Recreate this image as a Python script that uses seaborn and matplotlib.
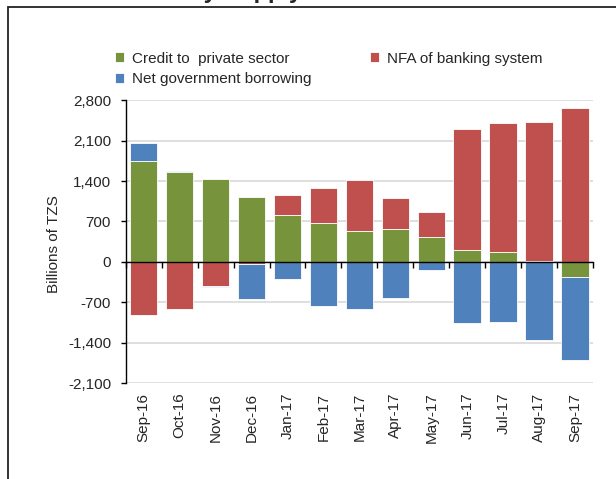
# Stacked drivers of money supply, Sep-16 to Sep-17 (Billions of TZS)

import numpy as np
import seaborn as sns
import matplotlib.pyplot as plt
from matplotlib.patches import Rectangle
from matplotlib.ticker import FuncFormatter

months = ['Sep-16', 'Oct-16', 'Nov-16', 'Dec-16', 'Jan-17', 'Feb-17', 'Mar-17',
          'Apr-17', 'May-17', 'Jun-17', 'Jul-17', 'Aug-17', 'Sep-17']
credit_private = [1745, 1560, 1440, 1117, 812, 674, 529, 570, 437, 207, 166, 22, -259]
nfa_banking = [-923, -824, -410, -30, 345, 598, 888, 541, 432, 2096, 2236, 2402, 2666]
net_gov_borrowing = [322, 23, -29, -610, -294, -760, -824, -622, -133, -1061, -1037, -1360, -1447]
y_ticks = [-2100, -1400, -700, 0, 700, 1400, 2100, 2800]

series = [
    ('Credit to  private sector', credit_private, '#77933C'),
    ('NFA of banking system', nfa_banking, '#C0504D'),
    ('Net government borrowing', net_gov_borrowing, '#4F81BD'),
]

sns.set_style('white')
plt.rcParams['font.family'] = ['Liberation Sans', 'DejaVu Sans']

fig = plt.figure(figsize=(6.16, 4.79), dpi=100)
ax = fig.add_axes([0.204, 0.2004, 0.759, 0.5902])

# Excel-style stacking: positives go up, negatives go down
pos_base = np.zeros(len(months))
neg_base = np.zeros(len(months))
for name, vals, col in series:
    vals = np.array(vals, dtype=float)
    bottom = np.where(vals >= 0, pos_base, neg_base)
    sns.barplot(x=months, y=vals, bottom=bottom, color=col, width=0.77,
                errorbar=None, label=name, edgecolor='white', linewidth=0.6,
                saturation=1, ax=ax)
    pos_base += np.clip(vals, 0, None)
    neg_base += np.clip(vals, None, 0)

ax.set_xlim(-0.5, len(months) - 0.5)
ax.set_ylim(y_ticks[0], y_ticks[-1])
ax.set_yticks(y_ticks)
ax.yaxis.set_major_formatter(FuncFormatter(lambda v, p: f'{v:,.0f}'))
ax.yaxis.grid(True, color='#d9d9d9', linewidth=1.2)
ax.set_axisbelow(True)
for s in ['top', 'right', 'bottom']:
    ax.spines[s].set_visible(False)
ax.spines['left'].set_color('black')
ax.spines['left'].set_linewidth(1)
ax.tick_params(axis='y', left=True, length=3.5, width=1, color='black',
               labelsize=11, pad=7)
ax.tick_params(axis='x', bottom=False, length=0, labelsize=11, pad=7,
               labelrotation=90)
ax.set_xlabel('')
ax.set_ylabel('Billions of TZS', fontsize=11)
ax.yaxis.set_label_coords(-0.138, 0.49)

# category axis line sits on zero, with tick marks between categories
zero_frac = -y_ticks[0] / (y_ticks[-1] - y_ticks[0])
sec = ax.secondary_xaxis(zero_frac)
sec.set_xticks(np.arange(len(months) + 1) - 0.5, labels=[''] * (len(months) + 1))
sec.tick_params(direction='out', length=4, width=1, color='black')
sec.spines['bottom'].set_color('black')
sec.spines['bottom'].set_linewidth(1)
sec.set_zorder(3)

handles, labels = ax.get_legend_handles_labels()
if ax.get_legend() is not None:
    ax.get_legend().remove()
order = [0, 2, 1]
fig.legend([handles[i] for i in order], [labels[i] for i in order],
           loc='upper left', bbox_to_anchor=(0.176, 0.905), ncol=2,
           frameon=False, fontsize=11, handlelength=0.62, handleheight=0.62,
           handletextpad=0.5, columnspacing=3.85, labelspacing=0.45,
           borderaxespad=0)

# partially visible title above the chart frame
fig.text(0.36, 1 + 2 / 479, 'Money Supply', fontsize=17, fontweight='bold',
         ha='center', va='baseline')

# chart frame, cut by the image edge on the right and bottom
fig.add_artist(Rectangle((8 / 616, -0.2), 1.2, 1.2 - 7 / 479,
                         transform=fig.transFigure, fill=False,
                         edgecolor='#222222', linewidth=1.3))

fig.savefig('out.png', dpi=100)
